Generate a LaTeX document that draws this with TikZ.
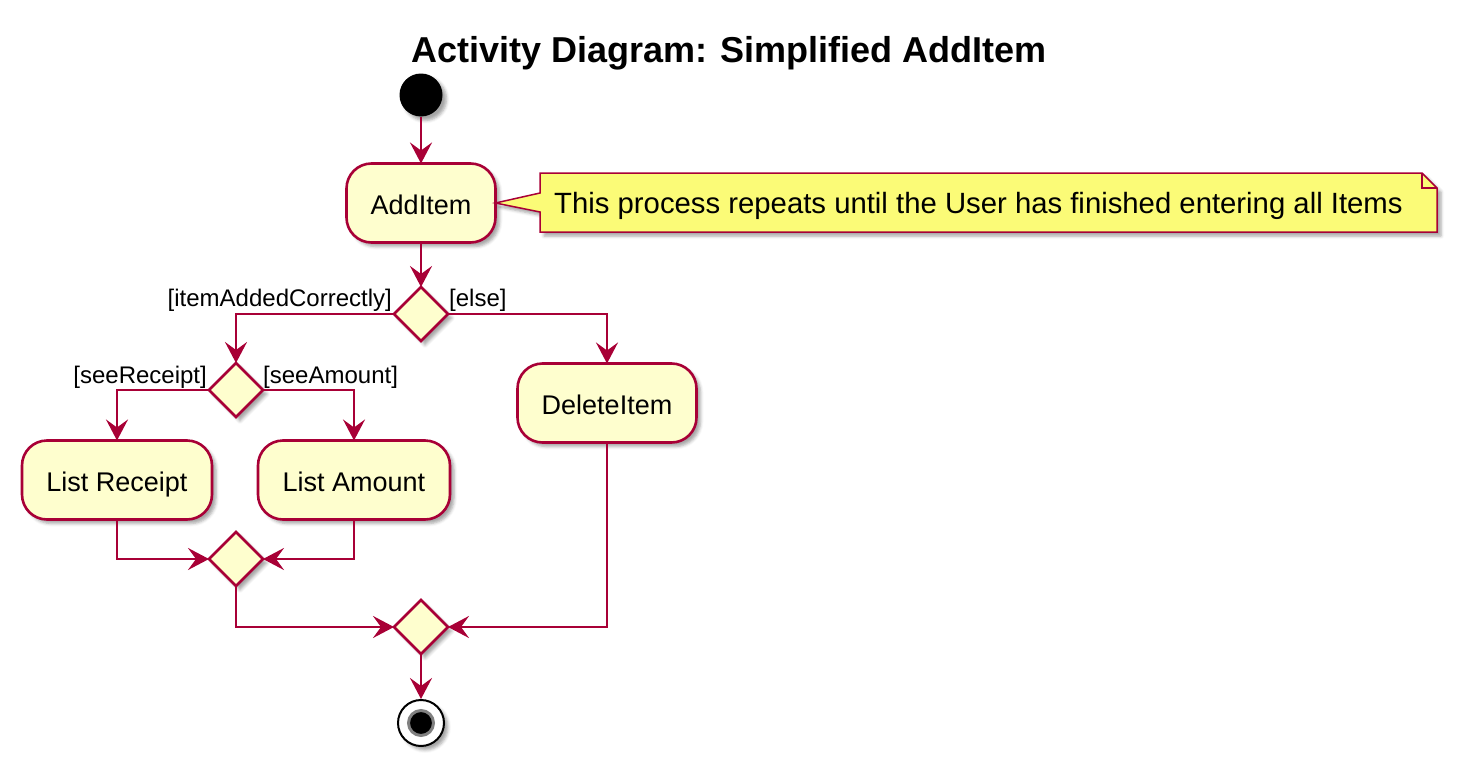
\documentclass[tikz,border=0pt]{standalone}
\usepackage{fontspec}
\setmainfont{Liberation Sans}
\usetikzlibrary{arrows.meta,shadows.blur,shapes.geometric}
\definecolor{umlred}{HTML}{A80036}
\definecolor{umlfill}{HTML}{FEFECE}
\definecolor{notefill}{HTML}{FBFB77}
\begin{document}
\begin{tikzpicture}[x=1pt,y=-1pt,
  shad/.style={blur shadow={shadow xshift=4pt,shadow yshift=-4pt,shadow blur radius=3pt,shadow opacity=35}},
  act/.style={draw=umlred,fill=umlfill,line width=2.6pt,rounded corners=25pt,minimum height=79pt,inner xsep=0pt,inner ysep=0pt,text height=22pt,text depth=0pt,outer sep=0pt,font=\fontsize{27}{32}\selectfont,shad},
  dia/.style={diamond,draw=umlred,fill=umlfill,line width=2.6pt,minimum width=54pt,minimum height=54pt,inner sep=0pt,outer sep=0pt,shad},
  guard/.style={font=\fontsize{24}{28}\selectfont,inner sep=0pt},
  flow/.style={draw=umlred,line width=2.6pt,-{Stealth[length=21pt,width=22pt,inset=8pt]}}
]
\useasboundingbox (0,0) rectangle (1462,771);
\node (title) at (729,53) {\fontsize{36}{42}\selectfont\bfseries Activity Diagram: Simplified AddItem};
\node[circle,fill=black,minimum size=43pt,inner sep=0pt,shad] (start) at (421,95) {};
\node[act,minimum width=149pt] (add) at (421,203) {AddItem};
% note
\path[draw=umlred,fill=notefill,line width=1.5pt,shad] (540,173) -- (1422,173) -- (1437,188) -- (1437,232) -- (540,232) -- (540,212) -- (add.east) -- (540,193) -- cycle;
\draw[umlred,line width=1.5pt] (1422,173) -- (1422,188) -- (1437,188);
\node[anchor=west,inner sep=0pt,font=\fontsize{29.3}{33}\selectfont] (notetext) at (554,206) {This process repeats until the User has finished entering all Items};
\node[dia] (d1) at (421,314) {};
\node[dia] (d2) at (236,390) {};
\node[act,minimum width=179pt] (del) at (607,403) {DeleteItem};
\node[act,minimum width=190pt] (lr) at (117,480) {List Receipt};
\node[act,minimum width=192pt] (la) at (354,480) {List Amount};
\node[dia] (m1) at (236,559) {};
\node[dia] (m2) at (421,627) {};
\node[circle,draw=black,fill=white,line width=2pt,minimum size=46pt,inner sep=0pt,shad] (end) at (421,723) {};
\node[circle,draw=gray,fill=black,line width=3pt,minimum size=25pt,inner sep=0pt] (endin) at (end.center) {};
% guards
\node[guard,anchor=south east] (g1) at (392,312) {[itemAddedCorrectly]};
\node[guard,anchor=south west] (g2) at (449,312) {[else]};
\node[guard,anchor=south east] (g3) at (207,389) {[seeReceipt]};
\node[guard,anchor=south west] (g4) at (263,389) {[seeAmount]};
% connectors
\draw[flow] (start) -- (add);
\draw[flow] (add) -- (d1);
\draw[flow] (d1.west) -| (d2.north);
\draw[flow] (d1.east) -| (del.north);
\draw[flow] (d2.west) -| (lr.north);
\draw[flow] (d2.east) -| (la.north);
\draw[flow] (lr.south) |- (m1.west);
\draw[flow] (la.south) |- (m1.east);
\draw[flow] (m1.south) |- (m2.west);
\draw[flow] (del.south) |- (m2.east);
\draw[flow] (m2) -- (end);
\end{tikzpicture}
\end{document}
